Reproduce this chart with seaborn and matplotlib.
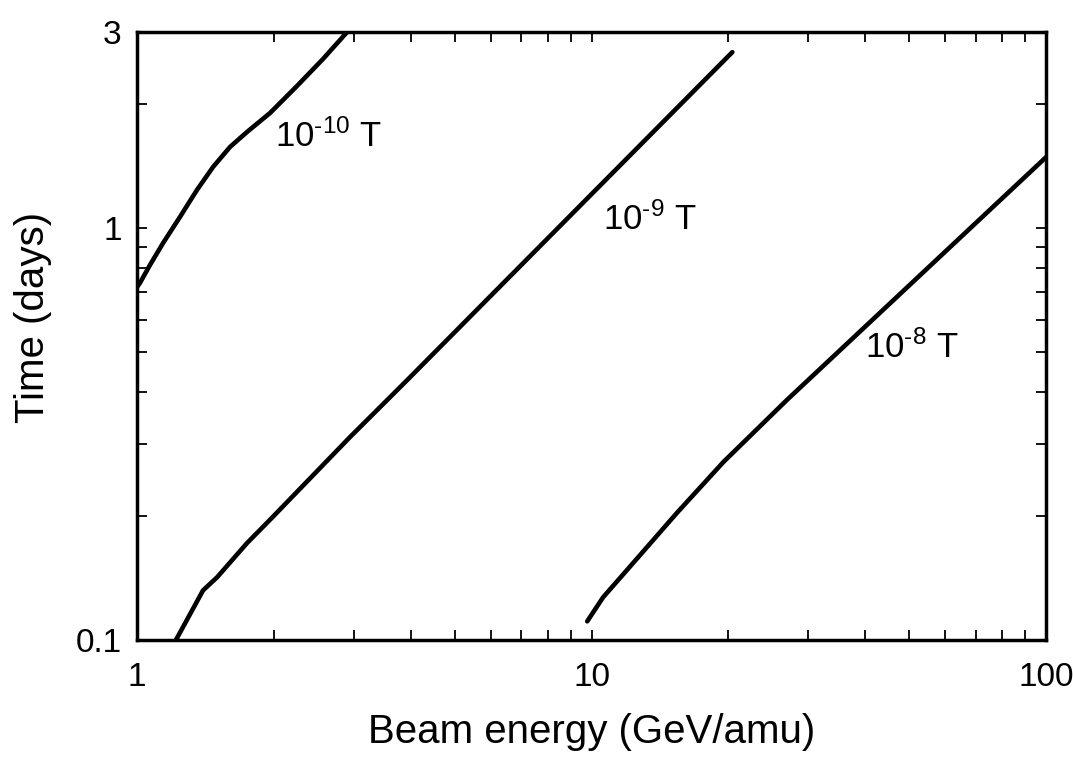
import numpy as np
import pandas as pd
import matplotlib
matplotlib.use("Agg")
import matplotlib.pyplot as plt
from matplotlib.ticker import FixedLocator, NullFormatter, FixedFormatter
import seaborn as sns

# ---- data (log-log) ----
energy_1e10 = [1.0, 1.015, 1.068, 1.141, 1.243, 1.355, 1.470, 1.602, 1.746,
               1.962, 2.249, 2.566, 2.90]
time_1e10 = [0.720, 0.737, 0.815, 0.921, 1.066, 1.240, 1.410, 1.577, 1.715,
             1.907, 2.218, 2.58, 3.0]

energy_1e9 = [1.218, 1.397, 1.50, 1.746, 1.962, 2.94, 3.93, 20.4]
time_1e9 = [0.100, 0.132, 0.142, 0.172, 0.196, 0.311, 0.428, 2.68]

energy_1e8 = [9.78, 10.6, 11.97, 15.4, 19.5, 26.9, 100.0]
time_1e8 = [0.111, 0.127, 0.148, 0.2035, 0.2707, 0.383, 1.49]

field_labels = ["$10^{\u201010}$ T", "$10^{\u20109}$ T", "$10^{\u20108}$ T"]

x_major = [1, 10, 100]
x_major_labels = ["1", "10", "100"]
x_minor = [2, 3, 4, 5, 6, 7, 8, 9, 20, 30, 40, 50, 60, 70, 80, 90]
y_major = [0.1, 1, 3]
y_major_labels = ["0.1", "1", "3"]
y_minor = [0.2, 0.3, 0.4, 0.5, 0.6, 0.7, 0.8, 0.9, 2]

df = pd.concat([
    pd.DataFrame({"energy": energy_1e10, "time": time_1e10, "field": field_labels[0]}),
    pd.DataFrame({"energy": energy_1e9, "time": time_1e9, "field": field_labels[1]}),
    pd.DataFrame({"energy": energy_1e8, "time": time_1e8, "field": field_labels[2]}),
], ignore_index=True)

sns.set_style("white")
plt.rcParams["font.family"] = ["Liberation Sans", "DejaVu Sans"]
plt.rcParams["mathtext.fontset"] = "custom"
plt.rcParams["mathtext.rm"] = "Liberation Sans"
plt.rcParams["mathtext.it"] = "Liberation Sans:italic"
plt.rcParams["mathtext.bf"] = "Liberation Sans:bold"
plt.rcParams["text.color"] = "black"
plt.rcParams["axes.labelcolor"] = "black"
plt.rcParams["xtick.color"] = "black"
plt.rcParams["ytick.color"] = "black"

fig = plt.figure(figsize=(10.73, 7.61), dpi=100)
ax = fig.add_axes([0.1277, 0.159, 0.8473, 0.799])

sns.lineplot(data=df, x="energy", y="time", hue="field",
             palette=["black", "black", "black"], linewidth=3.3,
             legend=False, ax=ax, sort=False, estimator=None)

ax.set_xscale("log")
ax.set_yscale("log")
ax.set_xlim(1, 100)
ax.set_ylim(0.1, 3)

ax.xaxis.set_major_locator(FixedLocator(x_major))
ax.xaxis.set_major_formatter(FixedFormatter(x_major_labels))
ax.xaxis.set_minor_locator(FixedLocator(x_minor))
ax.xaxis.set_minor_formatter(NullFormatter())
ax.yaxis.set_major_locator(FixedLocator(y_major))
ax.yaxis.set_major_formatter(FixedFormatter(y_major_labels))
ax.yaxis.set_minor_locator(FixedLocator(y_minor))
ax.yaxis.set_minor_formatter(NullFormatter())

ax.tick_params(which="both", direction="in", top=True, right=True,
               bottom=True, left=True, length=7.5, width=1.3, color="black")
ax.tick_params(axis="x", which="major", labelsize=24, pad=16)
ax.tick_params(axis="y", which="major", labelsize=24, pad=11)

for s in ax.spines.values():
    s.set_linewidth(2.5)
    s.set_color("black")

ax.set_xlabel("Beam energy (GeV/amu)", fontsize=29, labelpad=14)
ax.set_ylabel("Time (days)", fontsize=29)
ax.yaxis.set_label_coords(-0.0935, 0.53)

ax.text(2.01, 1.58, field_labels[0], fontsize=25, ha="left", va="baseline")
ax.text(10.6, 0.99, field_labels[1], fontsize=25, ha="left", va="baseline")
ax.text(40.0, 0.484, field_labels[2], fontsize=25, ha="left", va="baseline")

fig.savefig("out.png", dpi=100)
